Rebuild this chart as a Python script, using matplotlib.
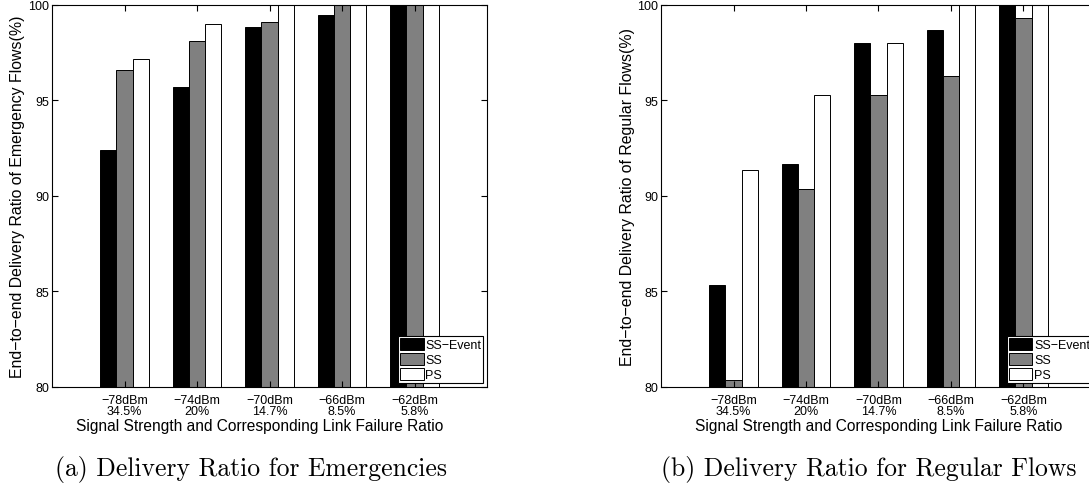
import numpy as np
import matplotlib
matplotlib.use("Agg")
import matplotlib.pyplot as plt

# signal strength levels and link failure ratios
signal = ["\u221278dBm", "\u221274dBm", "\u221270dBm", "\u221266dBm", "\u221262dBm"]
failure = ["34.5%", "20%", "14.7%", "8.5%", "5.8%"]
series = ["SS\u2212Event", "SS", "PS"]

# (a) emergency flows, delivery ratio in %
emerg_ss_event = [92.4, 95.7, 98.85, 99.5, 100.0]
emerg_ss = [96.6, 98.1, 99.1, 100.0, 100.0]
emerg_ps = [97.15, 99.0, 100.0, 100.0, 100.0]

# (b) regular flows
reg_ss_event = [85.35, 91.7, 98.0, 98.7, 100.0]
reg_ss = [80.35, 90.35, 95.3, 96.3, 99.3]
reg_ps = [91.35, 95.3, 98.0, 100.0, 100.0]

colors = ["black", "#808080", "white"]

plt.rcParams["font.family"] = ["Liberation Sans", "DejaVu Sans"]

fig = plt.figure(figsize=(10.89, 4.89), dpi=100)
W, H = 1089.0, 489.0


def panel(x0, data, ylabel, xlab_x, ylab_x):
    ax = fig.add_axes([x0 / W, (H - 388) / H, 435 / W, 382 / H])
    x = np.arange(1, len(signal) + 1)
    bw = 0.222
    for i, (vals, c) in enumerate(zip(data, colors)):
        ax.bar(x + (i - 1) * bw, np.array(vals) - 80, bw, bottom=80,
               color=c, edgecolor="black", linewidth=0.7, label=series[i])
    ax.set_xlim(0, 6)
    ax.set_ylim(80, 100)
    ax.set_yticks([80, 85, 90, 95, 100])
    ax.set_xticks(x)
    ax.set_xticklabels([s + "\n" + f for s, f in zip(signal, failure)],
                       linespacing=0.95)
    ax.tick_params(direction="in", top=True, right=True, length=4,
                   width=0.8, labelsize=9)
    ax.tick_params(axis="x", pad=5)
    ax.tick_params(axis="y", pad=2)
    for s in ax.spines.values():
        s.set_linewidth(0.8)
    ax.set_xlabel("Signal Strength and Corresponding Link Failure Ratio",
                  fontsize=11.2, va="top")
    ax.xaxis.set_label_coords(xlab_x, -0.080)
    ax.set_ylabel(ylabel, fontsize=11.4, va="center")
    ax.yaxis.set_label_coords(ylab_x, 0.5)
    leg = ax.legend(loc="lower right", fontsize=9, fancybox=False,
                    framealpha=1, edgecolor="black", borderaxespad=0.3,
                    borderpad=0.15, labelspacing=0.15, handlelength=1.9,
                    handleheight=1.1, handletextpad=0.15)
    leg.get_frame().set_linewidth(0.8)
    return ax


panel(52, [emerg_ss_event, emerg_ss, emerg_ps],
      "End\u2212to\u2212end Delivery Ratio of Emergency Flows(%)", 0.478, -0.080)
panel(661, [reg_ss_event, reg_ss, reg_ps],
      "End\u2212to\u2212end Delivery Ratio of Regular Flows(%)", 0.5, -0.078)

fig.text(251 / W, (H - 470) / H, "(a) Delivery Ratio for Emergencies",
         family="cmr10", fontsize=18.5, ha="center", va="center")
fig.text(869 / W, (H - 470) / H, "(b) Delivery Ratio for Regular Flows",
         family="cmr10", fontsize=18.5, ha="center", va="center")

fig.savefig("out.png", dpi=100)
